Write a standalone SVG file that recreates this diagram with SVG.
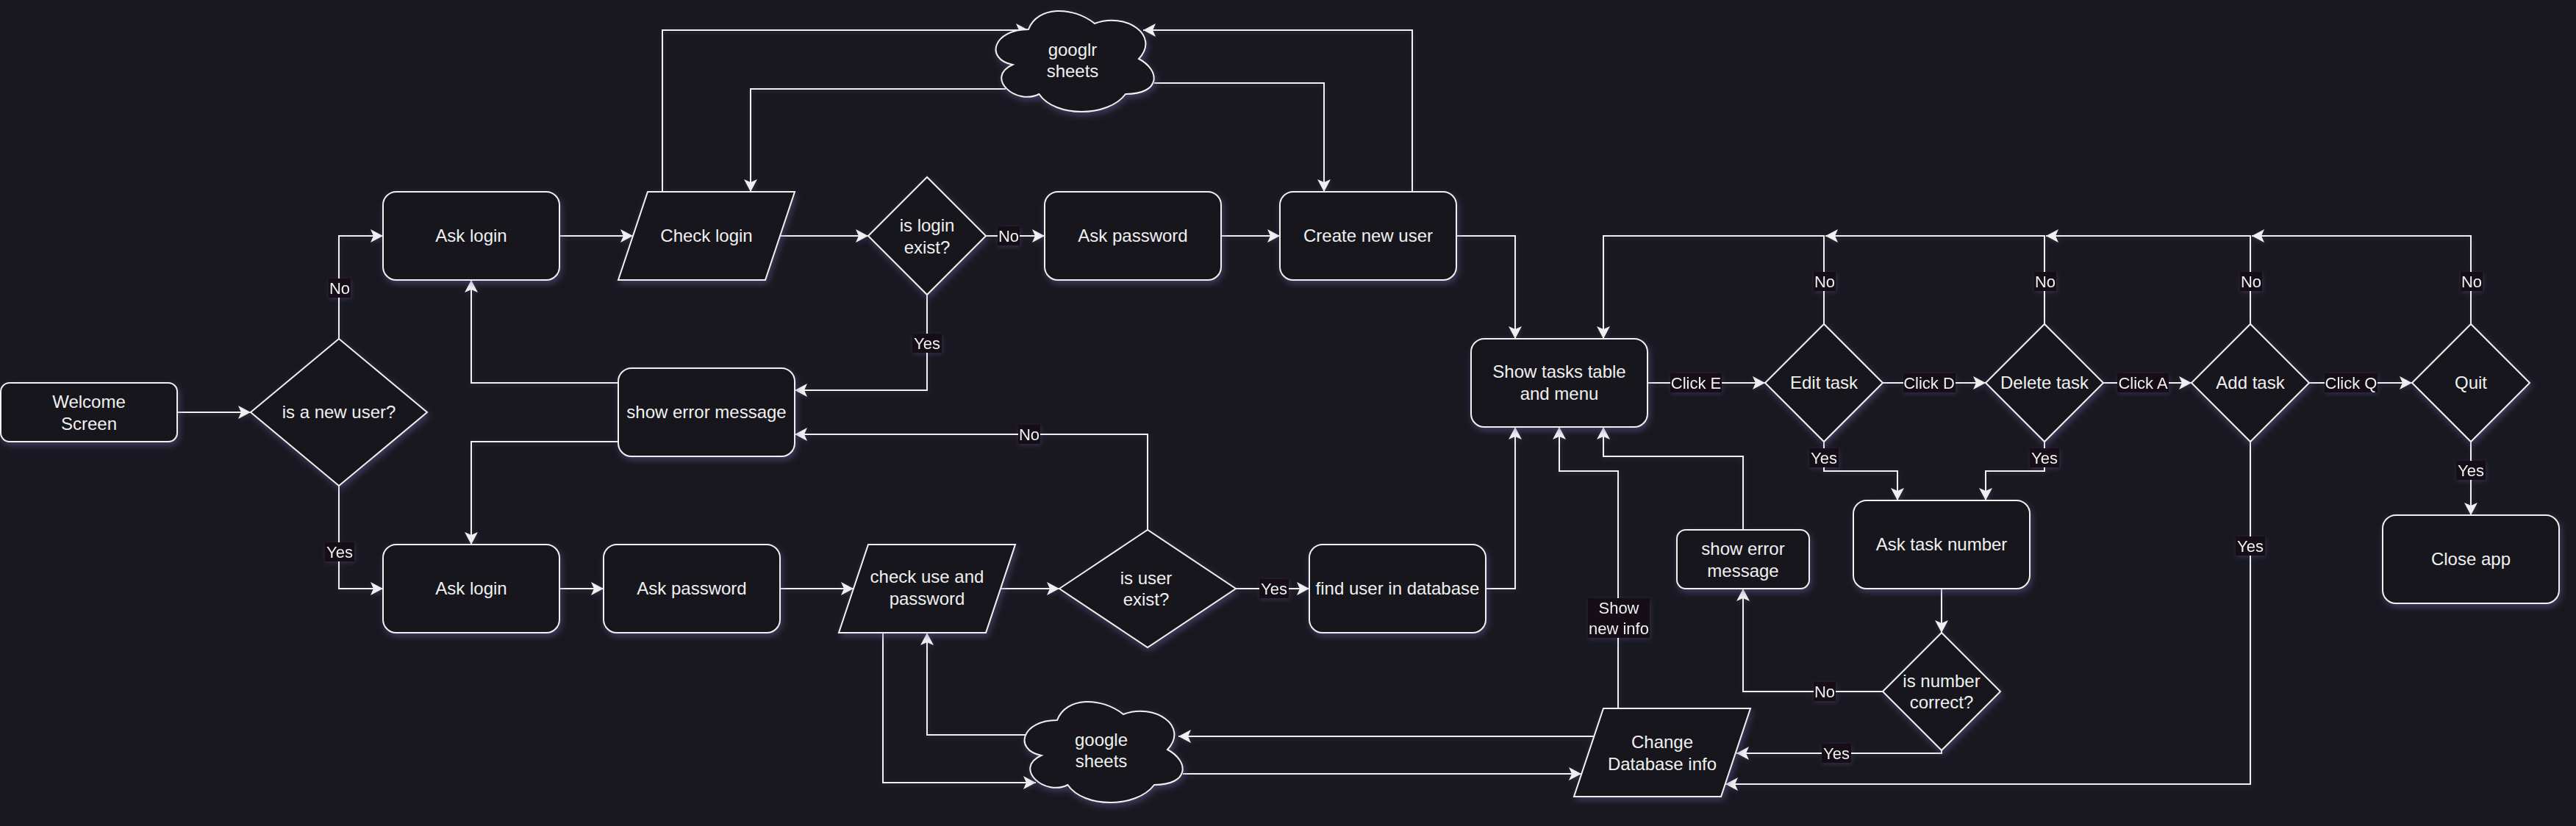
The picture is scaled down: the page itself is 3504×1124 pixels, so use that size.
<svg xmlns="http://www.w3.org/2000/svg" width="3504" height="1124" viewBox="0 0 3504 1124">
<defs>
<filter id="sh" x="-20%" y="-20%" width="140%" height="150%">
<feDropShadow dx="2" dy="4" stdDeviation="5" flood-color="#6a6ab0" flood-opacity="0.45"/>
</filter>
<filter id="she" x="-20%" y="-20%" width="140%" height="140%">
<feDropShadow dx="1" dy="2" stdDeviation="3" flood-color="#6a6ab0" flood-opacity="0.3"/>
</filter>
<marker id="ar" viewBox="0 0 18 18" markerWidth="18" markerHeight="18" refX="17" refY="9" orient="auto" markerUnits="userSpaceOnUse">
<path d="M0,0 L17,9 L0,18 L4,9 Z" fill="#f0f0f0"/>
</marker>
<path id="cloud" d="M60,40 C12,40 0,80 38.4,88 C0,105.6 43.2,144 74.4,128 C96,160 168,160 192,128 C240,128 240,96 210,80 C240,48 192,16 150,32 C120,8 72,8 60,40 Z"/>
</defs>
<style>
.n{fill:#18171c;stroke:#f0f0f0;stroke-width:2;filter:url(#sh)}
.t{font-family:"Liberation Sans",Arial,sans-serif;font-size:24px;fill:#f0f0f0;text-anchor:middle}
.e{fill:none;stroke:#f0f0f0;stroke-width:2;marker-end:url(#ar)}
.p{fill:none;stroke:#f0f0f0;stroke-width:2}
.lb{fill:#131118}
.l{font-family:"Liberation Sans",Arial,sans-serif;font-size:22px;fill:#f0f0f0;text-anchor:middle}
</style>
<rect x="0" y="0" width="3504" height="1124" fill="#19171f"/>

<g id="connectors" filter="url(#she)">
<path class="e" d="M241,561 H341"/>
<path class="e" d="M461,461 V321 H521"/>
<path class="e" d="M461,661 V801 H521"/>
<path class="e" d="M761,321 H861"/>
<path class="e" d="M1061,321 H1181"/>
<path class="e" d="M1341,321 H1421"/>
<path class="e" d="M1661,321 H1741"/>
<path class="e" d="M901,261 V41 H1399"/>
<path class="e" d="M1368,121 H1021 V261"/>
<path class="e" d="M1570,113 H1801 V261"/>
<path class="e" d="M1921,261 V41 H1555"/>
<path class="e" d="M1261,401 V531 H1081"/>
<path class="e" d="M841,521 H641 V381"/>
<path class="e" d="M841,601 H641 V741"/>
<path class="e" d="M761,801 H821"/>
<path class="e" d="M1061,801 H1161"/>
<path class="e" d="M1361,801 H1441"/>
<path class="e" d="M1561,721 V591 H1081"/>
<path class="e" d="M1681,801 H1781"/>
<path class="e" d="M2021,801 H2061 V581"/>
<path class="e" d="M1981,321 H2061 V461"/>
<path class="e" d="M1201,861 V1065 H1409"/>
<path class="e" d="M1397,1000 H1261 V861"/>
<path class="e" d="M2168,1002 H1603"/>
<path class="e" d="M1609,1053 H2151"/>
<path class="e" d="M2241,521 H2401"/>
<path class="e" d="M2561,521 H2701"/>
<path class="e" d="M2861,521 H2981"/>
<path class="e" d="M3141,521 H3281"/>
<path class="e" d="M2481,441 V321 H2181 V461"/>
<path class="e" d="M2781,441 V321 H2483"/>
<path class="e" d="M3061,441 V321 H2783"/>
<path class="e" d="M3361,441 V321 H3063"/>
<path class="e" d="M2481,601 V641 H2581 V681"/>
<path class="e" d="M2781,601 V641 H2701 V681"/>
<path class="e" d="M3361,601 V701"/>
<path class="e" d="M3061,601 V1067 H2347"/>
<path class="e" d="M2641,801 V861"/>
<path class="e" d="M2561,941 H2371 V801"/>
<path class="e" d="M2641,1021 V1025 H2362"/>
<path class="e" d="M2371,721 V621 H2181 V581"/>
<path class="e" d="M2201,964 V641 H2121 V581"/>

<rect class="lb" x="447" y="379" width="30" height="26"/><text class="l" x="462" y="400">No</text>
<rect class="lb" x="442" y="738" width="40" height="26"/><text class="l" x="462" y="759">Yes</text>
<rect class="lb" x="1357" y="308" width="30" height="26"/><text class="l" x="1372" y="329">No</text>
<rect class="lb" x="1241" y="454" width="40" height="26"/><text class="l" x="1261" y="475">Yes</text>
<rect class="lb" x="1385" y="578" width="30" height="26"/><text class="l" x="1400" y="599">No</text>
<rect class="lb" x="1713" y="788" width="40" height="26"/><text class="l" x="1733" y="809">Yes</text>
<rect class="lb" x="2272" y="508" width="70" height="26"/><text class="l" x="2307" y="529">Click E</text>
<rect class="lb" x="2589" y="508" width="71" height="26"/><text class="l" x="2624" y="529">Click D</text>
<rect class="lb" x="2880" y="508" width="70" height="26"/><text class="l" x="2915" y="529">Click A</text>
<rect class="lb" x="3162" y="508" width="72" height="26"/><text class="l" x="3198" y="529">Click Q</text>
<rect class="lb" x="2467" y="370" width="30" height="26"/><text class="l" x="2482" y="391">No</text>
<rect class="lb" x="2767" y="370" width="30" height="26"/><text class="l" x="2782" y="391">No</text>
<rect class="lb" x="3047" y="370" width="30" height="26"/><text class="l" x="3062" y="391">No</text>
<rect class="lb" x="3347" y="370" width="30" height="26"/><text class="l" x="3362" y="391">No</text>
<rect class="lb" x="2461" y="610" width="40" height="26"/><text class="l" x="2481" y="631">Yes</text>
<rect class="lb" x="2761" y="610" width="40" height="26"/><text class="l" x="2781" y="631">Yes</text>
<rect class="lb" x="3341" y="627" width="40" height="26"/><text class="l" x="3361" y="648">Yes</text>
<rect class="lb" x="3041" y="730" width="40" height="26"/><text class="l" x="3061" y="751">Yes</text>
<rect class="lb" x="2467" y="928" width="30" height="26"/><text class="l" x="2482" y="949">No</text>
<rect class="lb" x="2478" y="1012" width="40" height="26"/><text class="l" x="2498" y="1033">Yes</text>
<rect class="lb" x="2160" y="814" width="84" height="54"/><text class="l" x="2202" y="835">Show</text><text class="l" x="2202" y="863">new info</text>
</g>

<g id="welcome"><rect class="n" x="1" y="521" width="240" height="80" rx="12"/><text class="t" x="121" y="555">Welcome</text><text class="t" x="121" y="585">Screen</text></g>
<g id="is-new-user"><polygon class="n" points="341,561 461,461 581,561 461,661"/><text class="t" x="461" y="569">is a new user?</text></g>
<g id="ask-login-1"><rect class="n" x="521" y="261" width="240" height="120" rx="18"/><text class="t" x="641" y="329">Ask login</text></g>
<g id="check-login"><polygon class="n" points="881,261 1081,261 1041,381 841,381"/><text class="t" x="961" y="329">Check login</text></g>
<g id="googlr-sheets"><use href="#cloud" class="n" transform="translate(1339,0)"/><text class="t" x="1459" y="76">googlr</text><text class="t" x="1459" y="105">sheets</text></g>
<g id="login-exist"><polygon class="n" points="1181,321 1261,241 1341,321 1261,401"/><text class="t" x="1261" y="315">is login</text><text class="t" x="1261" y="345">exist?</text></g>
<g id="ask-password-1"><rect class="n" x="1421" y="261" width="240" height="120" rx="18"/><text class="t" x="1541" y="329">Ask password</text></g>
<g id="create-user"><rect class="n" x="1741" y="261" width="240" height="120" rx="18"/><text class="t" x="1861" y="329">Create new user</text></g>
<g id="show-error-1"><rect class="n" x="841" y="501" width="240" height="120" rx="18"/><text class="t" x="961" y="569">show error message</text></g>
<g id="ask-login-2"><rect class="n" x="521" y="741" width="240" height="120" rx="18"/><text class="t" x="641" y="809">Ask login</text></g>
<g id="ask-password-2"><rect class="n" x="821" y="741" width="240" height="120" rx="18"/><text class="t" x="941" y="809">Ask password</text></g>
<g id="check-use"><polygon class="n" points="1181,741 1381,741 1341,861 1141,861"/><text class="t" x="1261" y="793">check use and</text><text class="t" x="1261" y="823">password</text></g>
<g id="user-exist"><polygon class="n" points="1441,801 1561,721 1681,801 1561,881"/><text class="t" x="1559" y="795">is user</text><text class="t" x="1559" y="824">exist?</text></g>
<g id="find-user"><rect class="n" x="1781" y="741" width="240" height="120" rx="18"/><text class="t" x="1901" y="809">find user in database</text></g>
<g id="google-sheets"><use href="#cloud" class="n" transform="translate(1378,940)"/><text class="t" x="1498" y="1015">google</text><text class="t" x="1498" y="1044">sheets</text></g>
<g id="show-tasks"><rect class="n" x="2001" y="461" width="240" height="120" rx="18"/><text class="t" x="2121" y="514">Show tasks table</text><text class="t" x="2121" y="544">and menu</text></g>
<g id="edit-task"><polygon class="n" points="2401,521 2481,441 2561,521 2481,601"/><text class="t" x="2481" y="529">Edit task</text></g>
<g id="delete-task"><polygon class="n" points="2701,521 2781,441 2861,521 2781,601"/><text class="t" x="2781" y="529">Delete task</text></g>
<g id="add-task"><polygon class="n" points="2981,521 3061,441 3141,521 3061,601"/><text class="t" x="3061" y="529">Add task</text></g>
<g id="quit"><polygon class="n" points="3281,521 3361,441 3441,521 3361,601"/><text class="t" x="3361" y="529">Quit</text></g>
<g id="ask-task-number"><rect class="n" x="2521" y="681" width="240" height="120" rx="18"/><text class="t" x="2641" y="749">Ask task number</text></g>
<g id="close-app"><rect class="n" x="3241" y="701" width="240" height="120" rx="18"/><text class="t" x="3361" y="769">Close app</text></g>
<g id="show-error-2"><rect class="n" x="2281" y="721" width="180" height="80" rx="12"/><text class="t" x="2371" y="755">show error</text><text class="t" x="2371" y="785">message</text></g>
<g id="number-correct"><polygon class="n" points="2561,941 2641,861 2721,941 2641,1021"/><text class="t" x="2641" y="935">is number</text><text class="t" x="2641" y="964">correct?</text></g>
<g id="change-db"><polygon class="n" points="2181,964 2381,964 2341,1084 2141,1084"/><text class="t" x="2261" y="1018">Change</text><text class="t" x="2261" y="1048">Database info</text></g>
</svg>
